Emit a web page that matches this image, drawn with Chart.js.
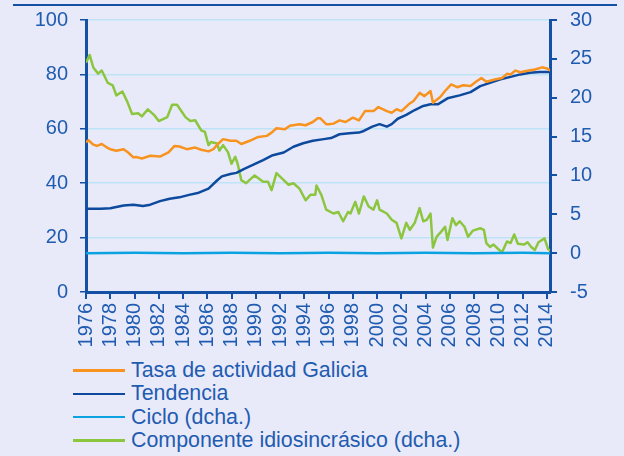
<!DOCTYPE html>
<html lang="es">
<head>
<meta charset="UTF-8">
<title>Tasa de actividad Galicia</title>
<script src="https://cdn.jsdelivr.net/npm/chart.js"></script>
<style>
    body { margin: 0; background: #E8EAFA; width: 624px; height: 456px; overflow: hidden; position: relative; font-family: "Liberation Sans", Arial, sans-serif; }
    #topLine { position: absolute; left: 13px; top: 4px; width: 604px; height: 2px; background: #1450A3; }
    #chartBox { position: absolute; left: 0; top: -5px; width: 624px; height: 363px; }
    #legend { position: absolute; left: 73px; top: 359px; }
    .item { height: 23.3px; display: flex; align-items: center; font-size: 21.4px; color: #1F5CB0; white-space: nowrap; }
    .swatch { width: 52px; height: 2.5px; margin-right: 6px; }
</style>
</head>
<body>
<div id="topLine"></div>
<div id="chartBox"><canvas id="chart"></canvas></div>
<div id="legend"></div>

<script>
    // Tasa de actividad Galicia (eje izq.)
    const tasaYears = [1976.0, 1976.2, 1976.6, 1976.9, 1977.3, 1977.7, 1978.0, 1978.5, 1979.1, 1979.5, 1979.9, 1980.2, 1980.6, 1981.3, 1982.1, 1982.8, 1983.3, 1983.7, 1984.3, 1985.0, 1985.5, 1986.1, 1986.5, 1986.9, 1987.3, 1987.9, 1988.4, 1988.8, 1989.5, 1990.2, 1990.9, 1991.3, 1991.7, 1992.4, 1992.8, 1993.6, 1994.1, 1994.7, 1995.1, 1995.3, 1995.8, 1996.0, 1996.4, 1996.9, 1997.4, 1998.0, 1998.5, 1999.0, 1999.7, 2000.1, 2000.8, 2001.2, 2001.6, 2002.0, 2002.6, 2003.0, 2003.5, 2003.9, 2004.4, 2004.6, 2005.2, 2005.6, 2006.1, 2006.6, 2007.1, 2007.7, 2008.2, 2008.6, 2009.0, 2009.7, 2010.3, 2010.7, 2011.0, 2011.4, 2011.8, 2012.5, 2013.0, 2013.6, 2014.0, 2014.3];
    const tasaValues = [55.0, 55.8, 54.2, 53.7, 54.4, 53.2, 52.5, 51.9, 52.5, 51.2, 49.5, 49.6, 49.1, 50.1, 49.8, 51.3, 53.7, 53.5, 52.5, 53.1, 52.3, 51.7, 52.5, 54.5, 56.2, 55.6, 55.6, 54.4, 55.6, 57.0, 57.4, 58.6, 60.2, 59.8, 61.1, 61.7, 61.3, 62.5, 63.9, 63.9, 61.7, 61.7, 61.9, 63.1, 62.5, 64.1, 63.1, 66.5, 66.5, 68.0, 66.5, 65.9, 67.2, 66.5, 69.0, 70.2, 73.2, 72.0, 73.9, 69.6, 71.7, 73.9, 76.3, 75.3, 76.0, 75.7, 77.5, 78.7, 77.3, 78.1, 78.7, 80.2, 80.0, 81.4, 80.8, 81.4, 81.8, 82.6, 82.2, 81.4];

    // Tendencia (eje izq.)
    const tendYears = [1976.0, 1977.2, 1978.0, 1979.1, 1979.9, 1980.7, 1981.3, 1982.1, 1982.9, 1983.7, 1984.5, 1985.3, 1986.1, 1986.8, 1987.2, 1987.9, 1988.4, 1989.0, 1989.8, 1990.6, 1991.4, 1992.3, 1993.1, 1993.9, 1994.7, 1995.6, 1996.2, 1996.9, 1997.7, 1998.5, 1998.9, 1999.6, 2000.2, 2000.8, 2001.2, 2001.7, 2002.4, 2003.1, 2003.8, 2004.4, 2005.0, 2005.8, 2006.8, 2007.7, 2008.5, 2009.3, 2010.1, 2011.0, 2011.8, 2012.6, 2013.4, 2014.3];
    const tendValues = [30.6, 30.6, 30.8, 31.8, 32.1, 31.6, 32.1, 33.4, 34.3, 34.8, 35.7, 36.5, 38.0, 41.0, 42.5, 43.4, 43.8, 45.2, 46.8, 48.5, 50.3, 51.3, 53.4, 54.7, 55.6, 56.2, 56.6, 58.0, 58.4, 58.6, 59.2, 60.8, 61.7, 60.8, 61.7, 63.7, 65.1, 66.9, 68.4, 69.0, 69.0, 71.2, 72.3, 73.5, 75.7, 76.9, 78.1, 79.1, 80.0, 80.6, 80.9, 80.9];

    // Ciclo (eje dcho.)
    const cicloYears = [1976.0, 1980.0, 1984.0, 1988.0, 1992.0, 1996.0, 2000.0, 2004.0, 2008.0, 2012.0, 2014.3];
    const cicloValues = [0.0, 0.05, 0.0, 0.05, 0.0, 0.05, 0.0, 0.05, 0.0, 0.05, 0.0];

    // Componente idiosincrásico (eje dcho.)
    const idioYears = [1976.0, 1976.3, 1976.6, 1977.0, 1977.3, 1977.8, 1978.2, 1978.5, 1979.0, 1979.4, 1979.8, 1980.3, 1980.6, 1981.1, 1981.6, 1982.0, 1982.7, 1983.1, 1983.5, 1983.9, 1984.2, 1984.6, 1985.0, 1985.5, 1985.8, 1986.1, 1986.3, 1986.8, 1987.0, 1987.3, 1987.7, 1988.0, 1988.3, 1988.5, 1988.8, 1989.2, 1989.9, 1990.6, 1991.0, 1991.3, 1991.7, 1992.3, 1992.7, 1993.1, 1993.6, 1994.1, 1994.5, 1994.9, 1995.0, 1995.4, 1995.8, 1996.4, 1996.8, 1997.2, 1997.6, 1997.8, 1998.2, 1998.5, 1998.9, 1999.3, 1999.7, 2000.0, 2000.2, 2000.8, 2001.2, 2001.6, 2002.0, 2002.4, 2002.7, 2003.1, 2003.5, 2003.8, 2004.1, 2004.4, 2004.6, 2004.9, 2005.3, 2005.6, 2005.8, 2006.2, 2006.5, 2006.8, 2007.2, 2007.5, 2007.9, 2008.5, 2008.8, 2009.0, 2009.3, 2009.6, 2010.0, 2010.3, 2010.7, 2011.0, 2011.3, 2011.6, 2012.1, 2012.4, 2012.7, 2013.0, 2013.3, 2013.8, 2014.1, 2014.3];
    const idioValues = [24.5, 25.5, 23.9, 23.1, 23.5, 21.9, 21.6, 20.3, 20.8, 19.5, 17.9, 18.0, 17.6, 18.5, 17.8, 17.0, 17.5, 19.1, 19.1, 18.2, 17.5, 17.0, 17.1, 15.8, 15.6, 13.9, 14.3, 14.1, 13.2, 13.9, 13.0, 11.5, 12.4, 11.5, 9.4, 9.0, 10.0, 9.2, 9.2, 8.1, 10.3, 9.4, 8.8, 9.0, 8.3, 6.8, 7.5, 7.5, 8.7, 7.5, 5.6, 5.1, 5.3, 4.1, 5.3, 5.1, 6.6, 5.1, 7.3, 6.0, 5.6, 6.8, 5.6, 5.1, 4.3, 3.9, 1.9, 3.9, 3.0, 3.9, 5.8, 4.1, 4.3, 5.1, 0.7, 2.1, 2.8, 3.4, 1.7, 4.5, 3.6, 4.1, 3.4, 2.1, 2.9, 3.2, 3.0, 1.3, 0.8, 1.1, 0.5, 0.1, 1.5, 1.3, 2.4, 1.2, 1.1, 1.4, 0.8, 0.4, 1.4, 1.9, 0.5, 0.3];

    const axisColor = '#1450A3';
    const textColor = '#1F5CB0';
    const gridColor = '#BEE3F6';

    function toPoints(xs, ys) {
        return xs.map((x, i) => ({ x: x, y: ys[i] }));
    }

    const datasets = [
        { label: 'Tasa de actividad Galicia', data: toPoints(tasaYears, tasaValues), borderColor: '#F7931E', yAxisID: 'y' },
        { label: 'Tendencia', data: toPoints(tendYears, tendValues), borderColor: '#0D4A9E', yAxisID: 'y' },
        { label: 'Ciclo (dcha.)', data: toPoints(cicloYears, cicloValues), borderColor: '#0AA2E0', yAxisID: 'y1' },
        { label: 'Componente idiosincrásico (dcha.)', data: toPoints(idioYears, idioValues), borderColor: '#8CC63F', yAxisID: 'y1' }
    ];
    datasets.forEach(d => {
        d.borderWidth = 2.5;
        d.pointRadius = 0;
        d.tension = 0;
        d.fill = false;
        d.borderJoinStyle = 'round';
    });

    const tickFont = { family: '"Liberation Sans", Arial, sans-serif', size: 20 };

    const chart = new Chart(document.getElementById('chart'), {
        type: 'line',
        data: { datasets: datasets },
        options: {
            responsive: true,
            maintainAspectRatio: false,
            animation: false,
            layout: { padding: { top: 14, left: 0, right: 0, bottom: 0 } },
            plugins: { legend: { display: false }, tooltip: { enabled: false } },
            scales: {
                x: {
                    type: 'linear',
                    min: 1976,
                    max: 2014.25,
                    ticks: {
                        stepSize: 2,
                        includeBounds: false,
                        autoSkip: false,
                        minRotation: 90,
                        maxRotation: 90,
                        padding: 4,
                        color: textColor,
                        font: tickFont,
                        callback: v => String(v)
                    },
                    grid: { drawOnChartArea: false, tickColor: axisColor, tickLength: 7, lineWidth: 2 },
                    border: { color: axisColor, width: 3 },
                    afterFit: s => { s.height = 66; }
                },
                y: {
                    position: 'left',
                    min: 0,
                    max: 100,
                    ticks: { stepSize: 20, padding: 12, color: textColor, font: tickFont },
                    grid: { color: gridColor, lineWidth: 1.5, tickColor: axisColor, tickLength: 6 },
                    border: { color: axisColor, width: 3 },
                    afterFit: s => { s.width = 86; }
                },
                y1: {
                    position: 'right',
                    min: -5,
                    max: 30,
                    ticks: { stepSize: 5, padding: 13, color: textColor, font: tickFont },
                    grid: { drawOnChartArea: false, tickColor: axisColor, tickLength: 7, lineWidth: 2 },
                    border: { color: axisColor, width: 3 },
                    afterFit: s => { s.width = 74; }
                }
            }
        }
    });

    // legend built from the datasets
    const legendDiv = document.getElementById('legend');
    chart.data.datasets.forEach(d => {
        const item = document.createElement('div');
        item.className = 'item';
        const sw = document.createElement('span');
        sw.className = 'swatch';
        sw.style.background = d.borderColor;
        item.appendChild(sw);
        item.appendChild(document.createTextNode(d.label));
        legendDiv.appendChild(item);
    });
</script>
</body>
</html>
